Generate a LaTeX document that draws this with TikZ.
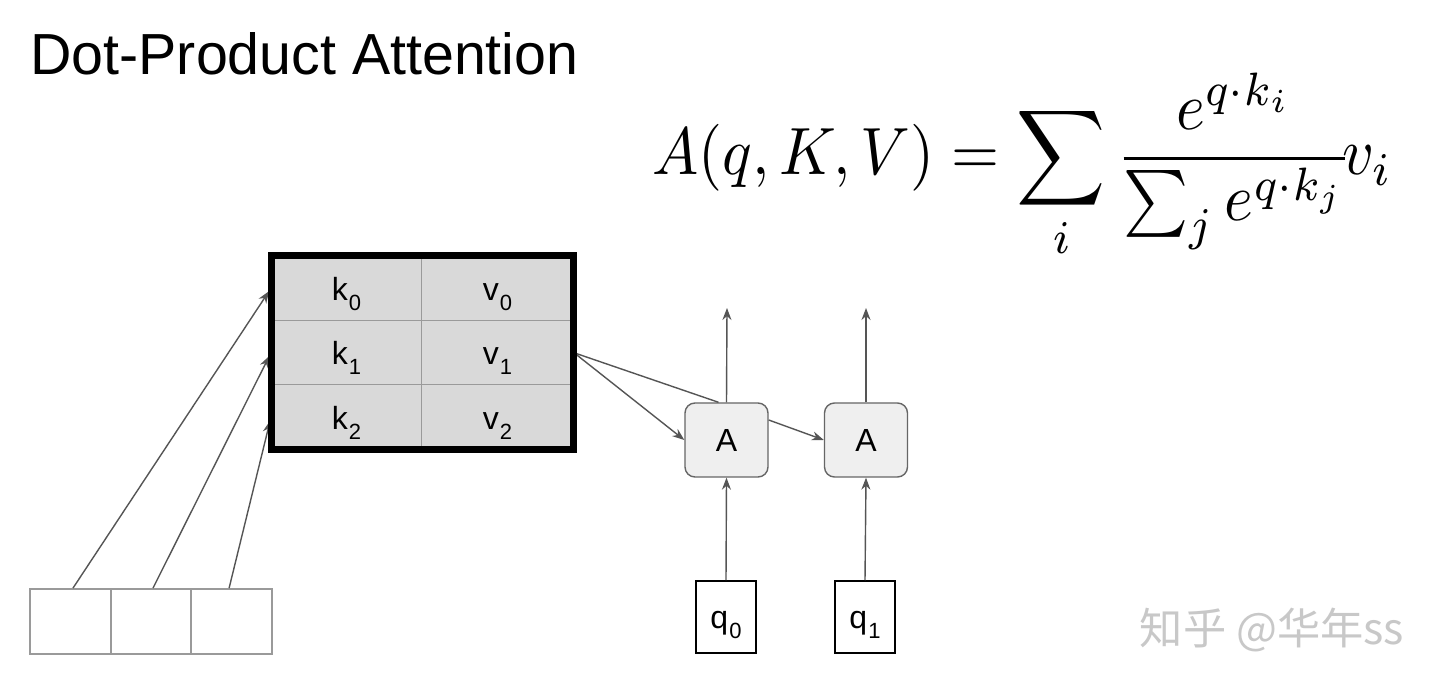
\documentclass[tikz,border=0pt]{standalone}
\usepackage{fontspec}
\setmainfont{Liberation Sans}
\newfontfamily\cjkfont{Noto Sans CJK SC}
\usetikzlibrary{arrows.meta}
\definecolor{cellgray}{HTML}{D9D9D9}
\definecolor{linegray}{HTML}{9A9A9A}
\definecolor{arrgray}{HTML}{555555}
\definecolor{boxgray}{HTML}{EFEFEF}
\definecolor{boxline}{HTML}{666666}
\definecolor{wmgray}{HTML}{C8C8C8}
\newcommand{\sublbl}[2]{#1\kern0.5pt\raisebox{-5pt}{\fontsize{11pt}{11pt}\selectfont #2}}
\begin{document}
\begin{tikzpicture}[x=0.5pt,y=-0.5pt,
  arr/.style={draw=arrgray, line width=0.7pt, -{Stealth[length=6pt,width=4.5pt]}},
  ln/.style={draw=arrgray, line width=0.7pt},
  lbl/.style={font=\fontsize{16pt}{16pt}\selectfont, text height=14pt, text depth=2pt},
  kcell/.style={draw=linegray, line width=0.5pt, fill=cellgray, minimum width=75pt, minimum height=32.25pt, inner sep=0pt, lbl},
  vcell/.style={kcell, minimum width=76pt},
  abox/.style={draw=boxline, line width=0.7pt, fill=boxgray, rounded corners=5pt, minimum width=41.5pt, minimum height=37pt, inner sep=0pt, font=\fontsize{16pt}{16pt}\selectfont},
  qbox/.style={draw=black, line width=0.75pt, fill=white, minimum width=30pt, minimum height=36pt, inner sep=0pt, lbl},
  inbox/.style={draw=linegray, line width=0.9pt, minimum width=40.3pt, minimum height=32.5pt, inner sep=0pt}]
\useasboundingbox[fill=white] (0,0) rectangle (1440,688);

% title
\node[anchor=base west, inner sep=0pt] (title) at (30,75) {\resizebox{274pt}{21pt}{Dot-Product Attention}};

% formula
\node[anchor=base west, inner sep=0pt] (formula) at (652,175) {\resizebox{370pt}{51pt}{$\displaystyle A(q,K,V)=\sum_i \frac{e^{q\cdot k_i}}{\sum_j e^{q\cdot k_j}}\!v_i$}};

% key/value table
\node[kcell] (k0) at (346.5,288.25) {\sublbl{k}{0}};
\node[kcell] (k1) at (346.5,352.75) {\sublbl{k}{1}};
\node[kcell] (k2) at (346.5,417.25) {\sublbl{k}{2}};
\node[vcell] (v0) at (497.5,288.25) {\sublbl{v}{0}};
\node[vcell] (v1) at (497.5,352.75) {\sublbl{v}{1}};
\node[vcell] (v2) at (497.5,417.25) {\sublbl{v}{2}};

% input boxes
\node[inbox] (b0) at (70.4,621.5) {};
\node[inbox] (b1) at (151,621.5) {};
\node[inbox] (b2) at (231.7,621.5) {};

% attention boxes
\node[abox] (a1) at (726.5,440) {A};
\node[abox] (a2) at (866,440) {A};

% query boxes
\node[qbox] (q0) at (726,617) {\sublbl{q}{0}};
\node[qbox] (q1) at (865,617) {\sublbl{q}{1}};

\coordinate (o1) at (727,308);
\coordinate (o2) at (866,308);

% connectors
\draw[arr, shorten >=1.75pt] ([xshift=1.3pt]b0.north) -- (k0.west);
\draw[arr, shorten >=1.75pt] ([xshift=1pt]b1.north) -- (k1.west);
\draw[arr, shorten >=1.75pt] ([xshift=-1.3pt]b2.north) -- (k2.west);
\draw[ln] (v1.east) -- ([xshift=-4pt]a1.north);
\draw[arr] (v1.east) -- (a1.west);
\draw[arr] ([yshift=10pt]a1.east) -- (a2.west);
\draw[arr] (a1.north) -- (o1);
\draw[arr] (a2.north) -- (o2);
\draw[arr] (q0.north) -- (a1.south);
\draw[arr] (q1.north) -- (a2.south);

% outer thick border
\node[draw=black, line width=3.5pt, minimum width=151pt, minimum height=96.75pt, inner sep=0pt] (kv) at (422.5,352.75) {};

% watermark
\node[text=wmgray, inner sep=0pt] (wm) at (1272,630) {\resizebox{132pt}{!}{\cjkfont 知乎 @华年ss}};
\end{tikzpicture}
\end{document}
